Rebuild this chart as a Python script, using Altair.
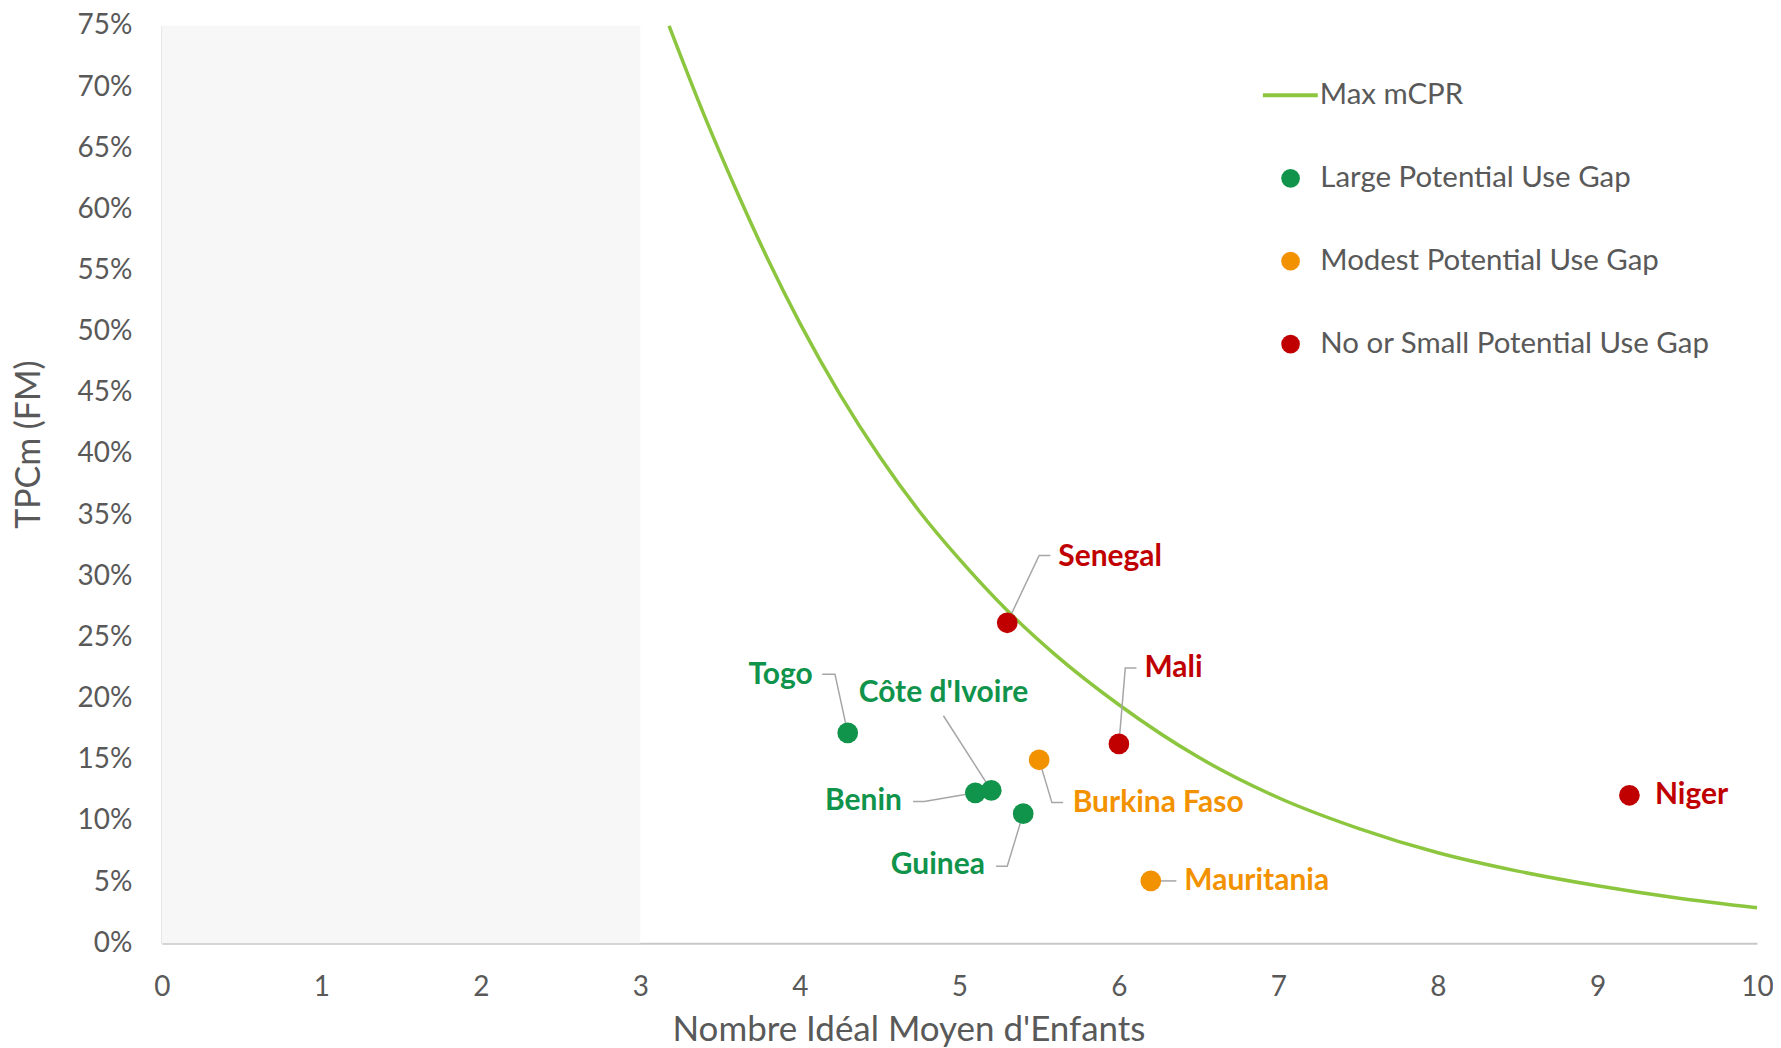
import altair as alt
import pandas as pd

# ---------------- data ----------------
# Max mCPR curve
curve_x = [3.18, 3.4, 3.6, 3.8, 4.0, 4.25, 4.5, 4.75, 5.0, 5.3, 5.6, 6.0, 6.5, 7.0, 7.5, 8.0, 8.5, 9.0, 9.5, 10.0]
curve_y = [0.75, 0.677, 0.616, 0.559, 0.507, 0.449, 0.398, 0.353, 0.314, 0.272, 0.236, 0.195, 0.152, 0.119, 0.094, 0.074, 0.059, 0.047, 0.037, 0.029]

# Countries
countries = ["Togo", "Benin", "Côte d'Ivoire", "Guinea", "Burkina Faso", "Senegal", "Mali", "Mauritania", "Niger"]
ideal_children = [4.30, 5.10, 5.20, 5.40, 5.50, 5.30, 6.00, 6.20, 9.20]
mcpr = [0.172, 0.123, 0.125, 0.106, 0.150, 0.262, 0.163, 0.051, 0.121]
gap_group = ["Large Potential Use Gap", "Large Potential Use Gap", "Large Potential Use Gap",
             "Large Potential Use Gap", "Modest Potential Use Gap", "No or Small Potential Use Gap",
             "No or Small Potential Use Gap", "Modest Potential Use Gap", "No or Small Potential Use Gap"]

# label anchors (data units) and alignment
label_anchor_x = [4.08, 4.64, 4.90, 5.16, 5.71, 5.62, 6.16, 6.41, 9.36]
label_anchor_y = [0.219, 0.116, 0.205, 0.064, 0.115, 0.316, 0.225, 0.051, 0.121]
label_align = ["right", "right", "center", "right", "left", "left", "left", "left", "left"]

# leader lines
leader_country = (["Togo"] * 3 + ["Côte d'Ivoire"] * 2 + ["Benin"] * 3 + ["Guinea"] * 3 +
                  ["Burkina Faso"] * 3 + ["Senegal"] * 3 + ["Mali"] * 3 + ["Mauritania"] * 2)
leader_x = [4.14, 4.22, 4.30, 4.90, 5.20, 4.71, 4.78, 5.10, 5.23, 5.30, 5.40,
            5.50, 5.58, 5.65, 5.30, 5.50, 5.57, 6.00, 6.04, 6.11, 6.20, 6.36]
leader_y = [0.220, 0.220, 0.172, 0.186, 0.125, 0.116, 0.116, 0.123, 0.063, 0.063, 0.106,
            0.150, 0.115, 0.115, 0.262, 0.317, 0.317, 0.163, 0.225, 0.225, 0.051, 0.051]
leader_step = [0, 1, 2, 0, 1, 0, 1, 2, 0, 1, 2, 0, 1, 2, 0, 1, 2, 0, 1, 2, 0, 1]

# shaded zone
shade_from = [0]
shade_to = [3]
shade_bottom = [0]
shade_top = [0.75]

x_ticks = [0, 1, 2, 3, 4, 5, 6, 7, 8, 9, 10]
y_ticks = [0, 0.05, 0.10, 0.15, 0.20, 0.25, 0.30, 0.35, 0.40, 0.45, 0.50, 0.55, 0.60, 0.65, 0.70, 0.75]

gap_levels = ["Large Potential Use Gap", "Modest Potential Use Gap", "No or Small Potential Use Gap"]
gap_colors = ["#10934a", "#f39200", "#c00000"]
curve_color = "#8cc63f"
text_grey = "#595959"
FONT = "Lato"

# ---------------- tables ----------------
curve_df = pd.DataFrame({"x": curve_x, "y": curve_y, "series": "Max mCPR"})
pts_df = pd.DataFrame({"country": countries, "x": ideal_children, "y": mcpr, "gap": gap_group,
                       "lx": label_anchor_x, "ly": label_anchor_y, "align": label_align})
lead_df = pd.DataFrame({"country": leader_country, "x": leader_x, "y": leader_y, "step": leader_step})
shade_df = pd.DataFrame({"x0": shade_from, "x1": shade_to, "y0": shade_bottom, "y1": shade_top})

xscale = alt.Scale(domain=[0, 10], nice=False, zero=False)
yscale = alt.Scale(domain=[0, 0.75], nice=False)

x_axis = alt.Axis(values=x_ticks, title="Nombre Idéal Moyen d'Enfants", labelPadding=30,
                  labelFlush=False,
                  titleX=748, titleY=86, titleBaseline="middle", titleFontSize=35,
                  domainColor="#c8c8c8", domainWidth=2)
y_axis = alt.Axis(values=y_ticks, format=".0%", title="TPCm (FM)", labelPadding=30,
                  titleX=-132, titleY=419, titleBaseline="middle", titleAngle=270,
                  domainColor="#d9d9d9", domainWidth=2)


def X(f):
    return alt.X(f, type="quantitative", scale=xscale, axis=x_axis)


def Y(f):
    return alt.Y(f, type="quantitative", scale=yscale, axis=y_axis)


gap_scale = alt.Scale(domain=gap_levels, range=gap_colors)

shade = alt.Chart(shade_df).mark_rect(color="#f7f7f7").encode(
    x=X("x0"), x2="x1", y=Y("y0"), y2="y1")

curve = alt.Chart(curve_df).mark_line(strokeWidth=3.5, interpolate="monotone").encode(
    x=X("x"), y=Y("y"),
    stroke=alt.Stroke("series:N", scale=alt.Scale(domain=["Max mCPR"], range=[curve_color]),
                      legend=alt.Legend(title=None, orient="none", legendX=1101, legendY=40,
                                        symbolType="stroke", symbolSize=3025, symbolStrokeWidth=4,
                                        labelOffset=0, padding=0, labelFont=FONT, labelFontSize=29.5,
                                        labelColor=text_grey, labelLimit=0)))

leaders = alt.Chart(lead_df).mark_line(color="#a6a6a6", strokeWidth=1.5).encode(
    x=X("x"), y=Y("y"), detail="country:N", order="step:Q")

points = alt.Chart(pts_df).mark_circle(size=430, opacity=1).encode(
    x=X("x"), y=Y("y"),
    color=alt.Color("gap:N", scale=gap_scale,
                    legend=alt.Legend(title=None, orient="none", legendX=1116, legendY=138,
                                      symbolType="circle", symbolSize=350, symbolStrokeWidth=0,
                                      symbolOpacity=1, labelOffset=15, rowPadding=52, padding=0,
                                      labelFont=FONT, labelFontSize=29.5, labelColor=text_grey,
                                      labelLimit=0)))

labels = []
for a in ["left", "right", "center"]:
    labels.append(
        alt.Chart(pts_df).transform_filter(alt.datum.align == a).mark_text(
            align=a, baseline="middle", font=FONT, fontWeight="bold", fontSize=30).encode(
            x=X("lx"), y=Y("ly"), text="country:N",
            color=alt.Color("gap:N", scale=gap_scale, legend=None)))

chart = alt.layer(shade, curve, leaders, points, *labels).properties(
    width=1598, height=919,
    autosize=alt.AutoSizeParams(type="none"),
    padding={"left": 154, "top": 17, "right": 16, "bottom": 104},
    background="white",
).configure_view(stroke=None).configure_axis(
    grid=False, ticks=False, tickSize=0,
    labelFont=FONT, labelFontSize=28, labelColor=text_grey,
    titleFont=FONT, titleFontSize=34, titleColor=text_grey, titleFontWeight="normal",
)

chart.save("out.html", embed_options={"renderer": "svg", "actions": False})
